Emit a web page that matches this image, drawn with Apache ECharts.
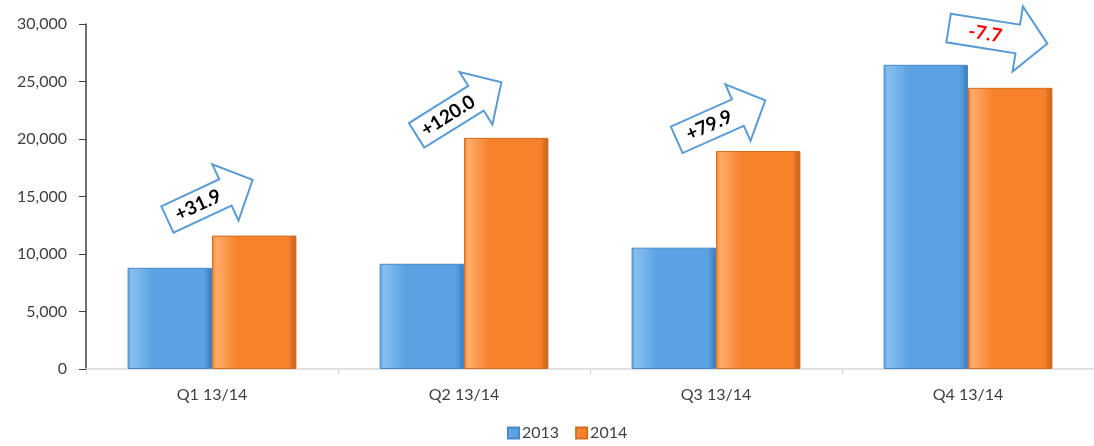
<!DOCTYPE html>
<html>
<head>
<meta charset="utf-8">
<script src="https://cdn.jsdelivr.net/npm/echarts@6/dist/echarts.min.js"></script>
<style>
  html, body { margin: 0; padding: 0; background: #fff; }
  #Chart1 { width: 1094px; height: 446px; }
</style>
</head>
<body>
<div id="Chart1"></div>
<script>
// quarterly values, 2013 vs 2014
var categories = ["Q1 13/14", "Q2 13/14", "Q3 13/14", "Q4 13/14"];
var values2013 = [8800, 9150, 10550, 26450];
var values2014 = [11600, 20100, 18950, 24450];
var changeLabels = ["+31.9", "+120.0", "+79.9", "-7.7"];

// arrow callouts: offset from the taller bar top, tilt in degrees
var arrowStyle = [
  { dx: -2, dy: -36, angle: 25, len: 94, head: 31, color: "#000" },
  { dx: -5, dy: -29, angle: 32, len: 100, head: 31, color: "#000" },
  { dx: 5, dy: -31, angle: 24, len: 97, head: 31, color: "#000" },
  { dx: 30, dy: -29, angle: -9, len: 100, head: 33, color: "#ff0000" }
];

function barColor(light, mid, dark) {
  return new echarts.graphic.LinearGradient(0, 0, 1, 0, [
    { offset: 0, color: mid },
    { offset: 0.05, color: light },
    { offset: 0.3, color: mid },
    { offset: 0.9, color: mid },
    { offset: 1, color: dark }
  ]);
}

var arrowData = [];
for (var i = 0; i < categories.length; i++) {
  arrowData.push([i, Math.max(values2013[i], values2014[i])]);
}

function renderArrow(params, api) {
  var i = params.dataIndex;
  var p = api.coord([api.value(0), api.value(1)]);
  var a = arrowStyle[i];
  var L = a.len, h = 14.5, w = a.head, hl = 30;
  var pts = [
    [-L / 2, -h], [L / 2 - hl, -h], [L / 2 - hl, -w], [L / 2, 0],
    [L / 2 - hl, w], [L / 2 - hl, h], [-L / 2, h]
  ];
  return {
    type: "group",
    x: p[0] + a.dx,
    y: p[1] + a.dy,
    rotation: a.angle * Math.PI / 180,
    children: [
      {
        type: "polygon",
        shape: { points: pts },
        style: { fill: "#ffffff", stroke: "#5b9bd5", lineWidth: 2 }
      },
      {
        type: "text",
        x: -hl / 2 + 2,
        y: 0,
        style: {
          text: changeLabels[i],
          fill: a.color,
          font: "bold 19px Lato, 'Open Sans', sans-serif",
          align: "center",
          verticalAlign: "middle"
        }
      }
    ]
  };
}

var Chart1 = echarts.init(document.getElementById("Chart1"));
var option = {
  animation: false,
  textStyle: { fontFamily: "Lato, 'Open Sans', sans-serif" },
  grid: { left: 86, right: -8, top: 24, bottom: 77 },
  legend: {
    bottom: 0,
    left: 502,
    icon: "rect",
    itemWidth: 11,
    itemHeight: 11,
    itemGap: 16,
    textStyle: { fontSize: 16, color: "#404040", padding: [0, 0, 0, -2] },
    data: ["2013", "2014"]
  },
  xAxis: {
    type: "category",
    data: categories,
    axisLine: { lineStyle: { color: "#d9d9d9", width: 1.5 } },
    axisTick: { show: true, length: 6, lineStyle: { color: "#d9d9d9" } },
    axisLabel: { color: "#404040", fontSize: 16, margin: 18 }
  },
  yAxis: {
    type: "value",
    min: 0,
    max: 30000,
    interval: 5000,
    splitLine: { show: false },
    axisLine: { show: true, lineStyle: { color: "#404040", width: 1.5 } },
    axisTick: { show: true, length: 7, lineStyle: { color: "#404040" } },
    axisLabel: {
      color: "#404040",
      fontSize: 16,
      margin: 19,
      formatter: function (v) { return v.toLocaleString("en-US"); }
    }
  },
  series: [
    {
      name: "2013",
      type: "bar",
      data: values2013,
      barGap: "0%",
      barCategoryGap: "33%",
      color: "#5b9bd5",
      itemStyle: {
        color: barColor("#86bff0", "#5ba2e2", "#3a78b8"),
        borderColor: "#4a88c8",
        borderWidth: 1
      }
    },
    {
      name: "2014",
      type: "bar",
      data: values2014,
      color: "#f58634",
      itemStyle: {
        color: barColor("#ffab6a", "#f8822c", "#c0601a"),
        borderColor: "#d26c1e",
        borderWidth: 1
      }
    },
    {
      name: "change",
      type: "custom",
      data: arrowData,
      renderItem: renderArrow,
      clip: false,
      silent: true,
      z: 10
    }
  ]
};
Chart1.setOption(option);
</script>
</body>
</html>
